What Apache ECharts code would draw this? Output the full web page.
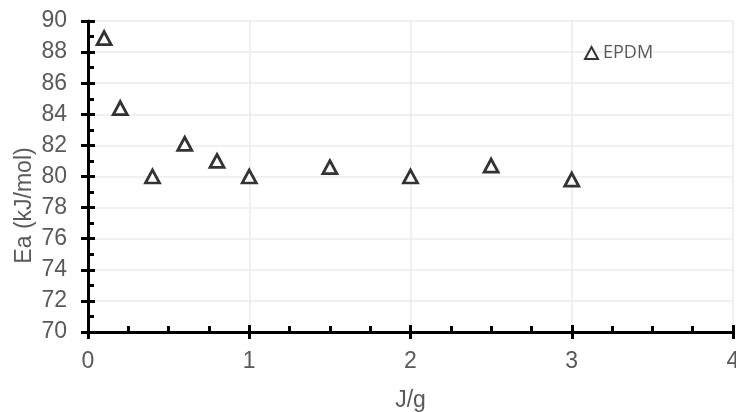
<!DOCTYPE html>
<html>
<head>
<meta charset="utf-8">
<script src="https://cdn.jsdelivr.net/npm/echarts@6/dist/echarts.min.js"></script>
<style>
  html, body { margin: 0; padding: 0; background: #fff; }
  #chart { width: 736px; height: 412px; }
</style>
</head>
<body>
<div id="chart"></div>
<script>
const energy = [0.1, 0.2, 0.4, 0.6, 0.8, 1.0, 1.5, 2.0, 2.5, 3.0];
const ea = [88.9, 84.4, 80.0, 82.1, 81.0, 80.0, 80.6, 80.0, 80.7, 79.8];
const seriesName = 'EPDM';

const labelColor = '#595959';
const gridColor = '#ebebeb';

const chart = echarts.init(document.getElementById('chart'));

// second pair of axes only draws the outer half of the major ticks
const option = {
    backgroundColor: '#fff',
    animation: false,
    grid: {left: 88, right: 3, top: 21, bottom: 80, outerBoundsMode: 'none', containLabel: false},
    legend: {
        left: 579,
        top: 39,
        itemWidth: 13,
        itemHeight: 12,
        itemGap: 6,
        textStyle: {fontFamily: 'Open Sans', fontSize: 18, color: labelColor},
        data: [seriesName]
    },
    xAxis: [{
        type: 'value',
        min: 0, max: 4, interval: 1,
        position: 'bottom',
        name: 'J/g',
        nameLocation: 'middle',
        nameGap: 57,
        nameTextStyle: {fontFamily: 'Liberation Sans', fontSize: 23, color: labelColor},
        axisLine: {onZero: false, lineStyle: {color: '#000', width: 3}},
        axisTick: {inside: true, length: 7, lineStyle: {color: '#000', width: 3}},
        minorTick: {show: true, splitNumber: 4, length: 6, lineStyle: {color: '#000', width: 3}},
        axisLabel: {margin: 18, fontFamily: 'Liberation Sans', fontSize: 23, color: labelColor},
        splitLine: {show: true, lineStyle: {color: gridColor, width: 1.5}}
    }, {
        type: 'value',
        min: 0, max: 4, interval: 1,
        position: 'bottom',
        axisLine: {show: false, onZero: false},
        axisTick: {length: 7, lineStyle: {color: '#000', width: 3}},
        axisLabel: {show: false},
        splitLine: {show: false}
    }],
    yAxis: [{
        type: 'value',
        min: 70, max: 90, interval: 2,
        position: 'left',
        name: 'Ea (kJ/mol)',
        nameLocation: 'middle',
        nameGap: 52,
        nameMoveOverlap: false,
        nameTextStyle: {fontFamily: 'Liberation Sans', fontSize: 23, color: labelColor, padding: [0, 58, 0, 0]},
        axisLine: {show: true, onZero: false, lineStyle: {color: '#000', width: 3}},
        axisTick: {show: true, inside: true, length: 7, lineStyle: {color: '#000', width: 3}},
        minorTick: {show: true, splitNumber: 2, length: 6, lineStyle: {color: '#000', width: 3}},
        axisLabel: {margin: 21, fontFamily: 'Liberation Sans', fontSize: 23, color: labelColor},
        splitLine: {show: true, lineStyle: {color: gridColor, width: 1.5}}
    }, {
        type: 'value',
        min: 70, max: 90, interval: 2,
        position: 'left',
        axisLine: {show: false, onZero: false},
        axisTick: {show: true, length: 7, lineStyle: {color: '#000', width: 3}},
        axisLabel: {show: false},
        splitLine: {show: false}
    }],
    series: [{
        name: seriesName,
        type: 'scatter',
        xAxisIndex: 0,
        yAxisIndex: 0,
        symbol: 'triangle',
        symbolSize: [14, 13],
        itemStyle: {color: '#fff', borderColor: '#000', borderWidth: 2.8},
        data: energy.map((x, i) => [x, ea[i]])
    }]
};

chart.setOption(option);
</script>
</body>
</html>
